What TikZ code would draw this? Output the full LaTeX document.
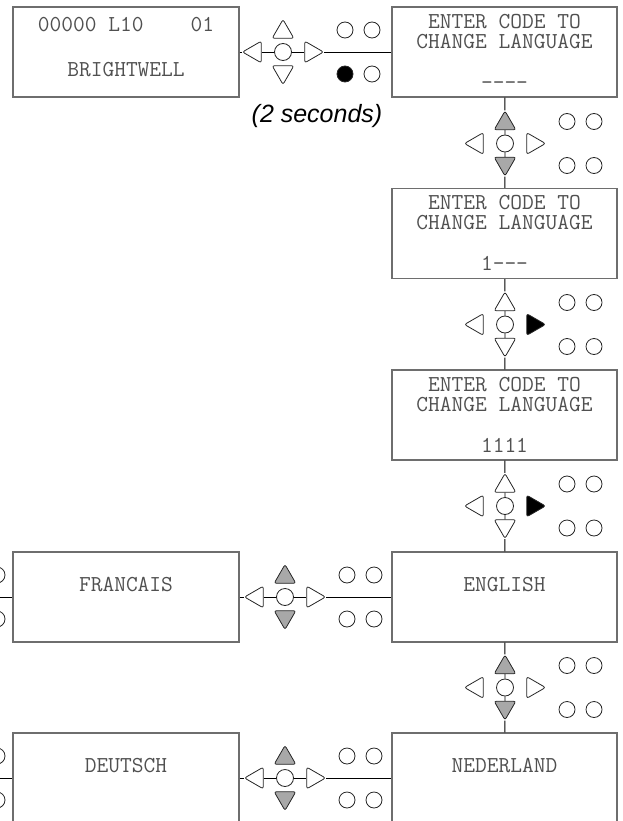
\documentclass[tikz,border=0pt]{standalone}
\usepackage{fontspec}
\usetikzlibrary{shapes.geometric}

\newfontfamily\notefont{Liberation Sans}
\definecolor{keygray}{RGB}{168,168,168}
\definecolor{lcdtext}{RGB}{80,80,80}
\definecolor{lcdframe}{RGB}{110,110,110}

% keypad: name, x, y, up, down, left, right (fill styles)
\newcommand{\keypad}[7]{%
  \node[key,#4] (#1u) at (#2,#3-20) {};
  \node[key,shape border rotate=180,#5] (#1d) at (#2,#3+20) {};
  \node[key,shape border rotate=90,#6] (#1l) at (#2-28,#3) {};
  \node[key,shape border rotate=270,#7] (#1r) at (#2+28,#3) {};
  \node[knob] (#1c) at (#2,#3) {};
}
% leds: name, x, y, lower left fill
\newcommand{\leds}[4]{%
  \node[led] (#1a) at (#2+62,#3-22) {};
  \node[led] (#1b) at (#2+89,#3-22) {};
  \node[led,#4] (#1x) at (#2+62,#3+22) {};
  \node[led] (#1y) at (#2+89,#3+22) {};
}

\begin{document}
\begin{tikzpicture}
[x=1pt,y=-1pt,line width=0.9pt,%
  lcd/.style={draw=lcdframe,line width=1.1pt,minimum width=225pt,minimum height=90pt,inner sep=0pt},%
  txt/.style={font=\ttfamily\fontsize{22.8}{26}\selectfont,text=lcdtext,inner sep=0pt,text height=13.5pt,text depth=0pt},%
  key/.style={regular polygon,regular polygon sides=3,minimum size=25pt,inner sep=0pt,draw=black!85,fill=white,line width=0.8pt,rounded corners=2.2pt},%
  knob/.style={circle,minimum size=17pt,inner sep=0pt,draw=black!85,fill=white,line width=0.8pt},%
  led/.style={circle,minimum size=16pt,inner sep=0pt,draw=black!85,line width=0.8pt},%
  grey/.style={fill=keygray},%
  blk/.style={fill=black}]
\useasboundingbox (0,0) rectangle (623,821);
\clip (0,0) rectangle (623,821);

% screens
\node[lcd,minimum width=226pt] (home) at (126,52) {};
\node[lcd] (code0) at (504.5,52) {};
\node[lcd] (code1) at (504.5,233.5) {};
\node[lcd] (code4) at (504.5,415) {};
\node[lcd] (english) at (504.5,597) {};
\node[lcd] (nederland) at (504.5,778) {};
\node[lcd,minimum width=226pt] (francais) at (126,597) {};
\node[lcd,minimum width=226pt] (deutsch) at (126,778) {};

\node[txt] (homea) at ([yshift=-18pt]home.north) {00000 L10\ \ \ \ 01};
\node[txt] (homeb) at ([yshift=-63pt]home.north) {BRIGHTWELL};
\foreach \s/\v in {code0/----,code1/1---,code4/1111} {
  \node[txt] (\s a) at ([yshift=-15pt]\s.north) {ENTER CODE TO};
  \node[txt] (\s b) at ([yshift=-35pt]\s.north) {CHANGE LANGUAGE};
  \node[txt] (\s c) at ([yshift=-76pt]\s.north) {\v};
}
\foreach \s/\t in {english/ENGLISH,nederland/NEDERLAND,francais/FRANCAIS,deutsch/DEUTSCH}
  \node[txt] (\s t) at ([yshift=-33pt]\s.north) {\t};

% keypads
\keypad{ka}{283}{52}{}{}{}{}
\leds{ka}{283}{52}{blk}
\node[font=\notefont\itshape\fontsize{25}{28}\selectfont,inner sep=0pt,text height=17.9pt,text depth=0pt] (hold) at (317,114) {(2 seconds)};

\keypad{kb}{505}{143.5}{grey}{grey}{}{}
\leds{kb}{505}{143.5}{}
\keypad{kc}{505}{324.5}{}{}{}{blk}
\leds{kc}{505}{324.5}{}
\keypad{kd}{505}{506}{}{}{}{blk}
\leds{kd}{505}{506}{}
\keypad{ke}{285}{597}{grey}{grey}{}{}
\leds{ke}{285}{597}{}
\keypad{kf}{505}{687.5}{grey}{grey}{}{}
\leds{kf}{505}{687.5}{}
\keypad{kg}{285}{778}{grey}{grey}{}{}
\leds{kg}{285}{778}{}

% leds of the pads cut off on the left
\node[led] (lfa) at (-3,575) {};
\node[led] (lfb) at (-3,619) {};
\node[led] (lda) at (-3,756) {};
\node[led] (ldb) at (-3,800) {};
\coordinate (offf) at (-10,597);
\coordinate (offd) at (-10,778);

% connectors
\draw (home) -- (kal) -- (kac) -- (kar) -- (code0);
\draw (code0) -- (kbu) -- (kbc) -- (kbd) -- (code1);
\draw (code1) -- (kcu) -- (kcc) -- (kcd) -- (code4);
\draw (code4) -- (kdu) -- (kdc) -- (kdd) -- (english);
\draw (francais) -- (kel) -- (kec) -- (ker) -- (english);
\draw (english) -- (kfu) -- (kfc) -- (kfd) -- (nederland);
\draw (deutsch) -- (kgl) -- (kgc) -- (kgr) -- (nederland);
\draw (offf) -- (francais.west);
\draw (offd) -- (deutsch.west);
\end{tikzpicture}
\end{document}
